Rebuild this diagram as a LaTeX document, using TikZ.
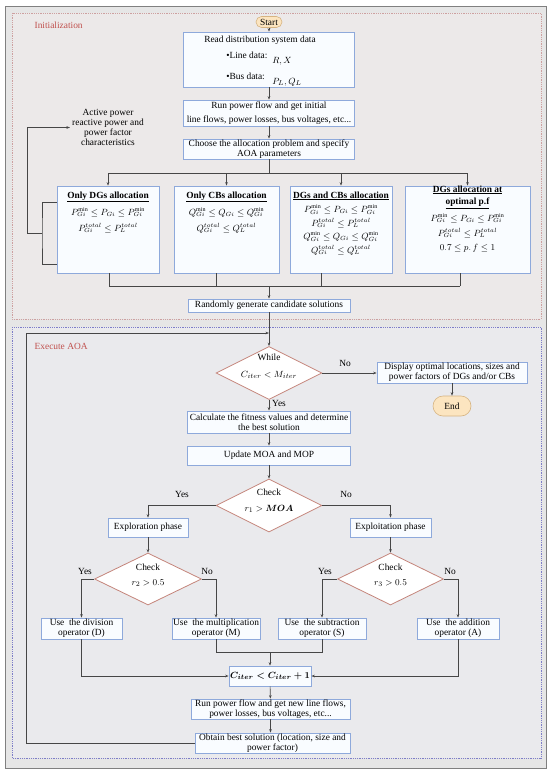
\documentclass[tikz,border=0pt]{standalone}
\usepackage{amsmath}
\usepackage{fontspec}
\setmainfont{Liberation Serif}
\usetikzlibrary{arrows.meta,shapes.geometric,positioning}
\definecolor{boxblue}{RGB}{142,169,219}
\definecolor{boxfill}{RGB}{249,252,255}
\definecolor{diared}{RGB}{196,132,122}
\definecolor{termfill}{RGB}{252,229,192}
\definecolor{termdraw}{RGB}{214,180,130}
\definecolor{linegray}{RGB}{70,70,70}
\definecolor{framered}{RGB}{192,80,77}
\definecolor{initdot}{RGB}{205,160,160}
\definecolor{execdot}{RGB}{125,125,200}
\definecolor{bgcol}{RGB}{230,230,230}
\definecolor{initbg}{RGB}{236,233,233}
\definecolor{execbg}{RGB}{234,234,237}
\begin{document}
\begin{tikzpicture}
  [
  x=1pt, y=-1pt,
  font=\fontsize{9.4}{10}\selectfont, line width=0.6pt,
  procbox/.style={rectangle, draw=boxblue, fill=boxfill, line width=0.8pt, inner sep=0.5pt, align=center},
  decision/.style={diamond, draw=diared, fill=white, line width=0.8pt, inner sep=0pt},
  terminal/.style={rectangle, draw=termdraw, fill=termfill, line width=0.6pt, inner sep=0pt},
  title/.style={font=\fontsize{9.4}{10}\selectfont\bfseries, inner sep=0pt},
  eqn/.style={inner sep=0pt, font=\fontsize{9}{10}\selectfont},
  conn/.style={draw=linegray},
  arr/.style={draw=linegray, -{Stealth[length=3.5pt,width=2.6pt]}},
  framelabel/.style={text=framered, anchor=west}
  ]

\useasboundingbox (0,0) rectangle (550,776);
\fill[bgcol] (5,7) rectangle (546,768);
\draw[gray, line width=1pt] (5,7) rectangle (546,768);
\filldraw[fill=initbg, draw=initdot, densely dotted, line width=0.8pt] (12,13) rectangle (541,319);
\filldraw[fill=execbg, draw=execdot, densely dotted, line width=0.8pt] (12,327) rectangle (541,758);
\node[framelabel] (initlbl) at (31,25) {Initialization};
\node[framelabel] (execlbl) at (31,346) {Execute AOA};

\node[terminal, minimum width=26pt, minimum height=11pt, rounded corners=5.5pt] (start) at (269,22) {Start};

\node[procbox, minimum width=171pt, minimum height=55pt] (read) at (269,59.5) {};
\node (readt) at (260,40) {Read distribution system data};
\node[anchor=west, inner sep=0pt] (linet) at (226,55) {\textbullet Line data:};
\node[anchor=west, inner sep=0pt] (linev) at (272,61) {$R, X$};
\node[anchor=west, inner sep=0pt] (bust) at (226,76) {\textbullet Bus data:};
\node[anchor=west, inner sep=0pt] (busv) at (272,82) {$P_L, Q_L$};

\node[procbox, minimum width=171pt, minimum height=26pt] (flow) at (269,113) {Run power flow and get initial\\[4pt] line flows, power losses, bus voltages, etc...};
\node[procbox, minimum width=171pt, minimum height=20pt] (choose) at (269,149) {Choose the allocation problem and specify\\AOA parameters};

\node[align=center, inner sep=2pt] (charac) at (108,127.5) {Active power\\reactive power and\\power factor\\characteristics};

\node[procbox, minimum width=102pt, minimum height=87pt] (a1) at (108,229.5) {};
\node[procbox, minimum width=105pt, minimum height=87pt] (a2) at (226.5,229.5) {};
\node[procbox, minimum width=102pt, minimum height=87pt] (a3) at (341,229.5) {};
\node[procbox, minimum width=125pt, minimum height=87pt] (a4) at (467.5,229.5) {};

\node[title] (a1t) at (108,197) {\underline{Only DGs allocation}};
\node[eqn] (a1e1) at (108,212) {$P_{Gi}^{\mathrm{min}} \le P_{Gi} \le P_{Gi}^{\mathrm{min}}$};
\node[eqn] (a1e2) at (108,228) {$P_{Gi}^{total} \le P_{L}^{total}$};

\node[title] (a2t) at (226.5,197) {\underline{Only CBs allocation}};
\node[eqn] (a2e1) at (226.5,212) {$Q_{Gi}^{\mathrm{min}} \le Q_{Gi} \le Q_{Gi}^{\mathrm{min}}$};
\node[eqn] (a2e2) at (226.5,228) {$Q_{Gi}^{total} \le Q_{L}^{total}$};

\node[title] (a3t) at (341,196) {\underline{DGs and CBs allocation}};
\node[eqn] (a3e1) at (341,209.5) {$P_{Gi}^{\mathrm{min}} \le P_{Gi} \le P_{Gi}^{\mathrm{min}}$};
\node[eqn] (a3e2) at (341,223) {$P_{Gi}^{total} \le P_{L}^{total}$};
\node[eqn] (a3e3) at (341,236.5) {$Q_{Gi}^{\mathrm{min}} \le Q_{Gi} \le Q_{Gi}^{\mathrm{min}}$};
\node[eqn] (a3e4) at (341,250) {$Q_{Gi}^{total} \le Q_{L}^{total}$};

\node[title] (a4t) at (467.5,190) {\underline{DGs allocation at}};
\node[title] (a4t2) at (467.5,203) {\underline{optimal p.f}};
\node[eqn] (a4e1) at (467.5,218) {$P_{Gi}^{\mathrm{min}} \le P_{Gi} \le P_{Gi}^{\mathrm{min}}$};
\node[eqn] (a4e2) at (467.5,233) {$P_{Gi}^{total} \le P_{L}^{total}$};
\node[eqn] (a4e3) at (467.5,248) {$0.7 \le p.\,f \le 1$};

\node[procbox, minimum width=162pt, minimum height=13pt] (rand) at (269,305.5) {Randomly generate candidate solutions};

\node[decision, minimum width=106pt, minimum height=53pt] (while) at (269,373) {};
\node (whilet) at (269,357) {While};
\node (whilec) at (269,375) {$C_{iter} < M_{iter}$};
\node (wno) at (345,363) {No};
\node (wyes) at (279,403) {Yes};

\node[procbox, minimum width=150pt, minimum height=21pt] (disp) at (452,372.5) {Display optimal locations, sizes and\\power factors of DGs and/or CBs};
\node[terminal, minimum width=38pt, minimum height=20pt, rounded corners=10pt] (end) at (452,406) {End};

\node[procbox, minimum width=163pt, minimum height=22pt] (calc) at (269,422) {Calculate the fitness values and determine\\the best solution};
\node[procbox, minimum width=163pt, minimum height=19pt] (upd) at (269,455.5) {Update MOA and MOP};

\node[decision, minimum width=106pt, minimum height=53pt] (chk1) at (269,505.5) {};
\node (chk1t) at (269,492) {Check};
\node (chk1c) at (269,509) {$r_1 > \boldsymbol{MOA}$};
\node (c1yes) at (182,494) {Yes};
\node (c1no) at (346,494) {No};

\node[procbox, minimum width=80pt, minimum height=19pt] (explor) at (148,527.5) {Exploration phase};
\node[procbox, minimum width=81pt, minimum height=19pt] (exploit) at (390.5,527.5) {Exploitation phase};

\node[decision, minimum width=107pt, minimum height=52pt] (chk2) at (148,579) {};
\node (chk2t) at (148,567) {Check};
\node (chk2c) at (148,583) {$r_2 > 0.5$};
\node (c2yes) at (85,571) {Yes};
\node (c2no) at (207,571) {No};

\node[decision, minimum width=106pt, minimum height=52pt] (chk3) at (390.5,579) {};
\node (chk3t) at (390.5,567) {Check};
\node (chk3c) at (390.5,583) {$r_3 > 0.5$};
\node (c3yes) at (325,571) {Yes};
\node (c3no) at (450,571) {No};

\node[procbox, minimum width=81pt, minimum height=21pt] (opD) at (81.5,628.5) {Use~ the division\\operator (D)};
\node[procbox, minimum width=88pt, minimum height=21pt] (opM) at (216,628.5) {Use~ the multiplication\\operator (M)};
\node[procbox, minimum width=88pt, minimum height=21pt] (opS) at (322,628.5) {Use~ the subtraction\\operator (S)};
\node[procbox, minimum width=82pt, minimum height=21pt] (opA) at (458,628.5) {Use~ the addition\\operator (A)};

\node[procbox, minimum width=82pt, minimum height=20pt] (citer) at (270,676) {$\boldsymbol{C_{iter} < C_{iter} + 1}$};
\node[procbox, minimum width=159pt, minimum height=20pt] (flow2) at (270.5,709) {Run power flow and get new line flows,\\power losses, bus voltages, etc...};
\node[procbox, minimum width=155pt, minimum height=20pt] (best) at (272.5,743) {Obtain best solution (location, size and\\power factor)};

\draw[arr] (start) -- (read);
\draw[arr] (read) -- (flow);
\draw[arr] (flow) -- (choose);
\coordinate (split) at (269,173);
\draw[conn] (choose) -- (split);
\draw[conn] (a1.north |- split) -- (a4.north |- split);
\foreach \i in {1,2,3,4} {
  \draw[arr] (a\i.north |- split) -- (a\i.north);
}
\coordinate (merge) at (269,286);
\foreach \i/\mx in {1/109,2/216,3/321,4/460} {
  \draw[conn] (a\i.south -| \mx,0) -- (\mx,286);
}
\draw[conn] (109,286) -- (460,286);
\draw[arr] (merge) -- (rand);

\draw[conn] ([yshift=27.5pt]a1.west) -| (42,233) |- ([yshift=-34.5pt]a1.west);
\draw[arr] (42,233) -- (27,233) |- (charac.west);

\draw[arr] (rand) -- (while);
\draw[arr] (best.west) -| (26,333) -- (rand.south |- 0,333);
\draw[arr] (while.east) -- (while.east -| disp.west);
\draw[arr] (disp) -- (end);
\draw[arr] (while) -- (calc);
\draw[arr] (calc) -- (upd);
\draw[arr] (upd) -- (chk1);
\draw[arr] (chk1.west) -| (explor.north);
\draw[arr] (chk1.east) -| (exploit.north);
\draw[arr] (explor) -- (chk2);
\draw[arr] (exploit) -- (chk3);
\draw[arr] (chk2.west) -| (opD.north);
\draw[arr] (chk2.east) -| (opM.north);
\draw[arr] (chk3.west) -| (opS.north);
\draw[arr] (chk3.east) -| (opA.north);
\coordinate (join) at (270,652);
\draw[conn] (opM.south) |- (join);
\draw[conn] (opS.south) |- (join);
\draw[arr] (join) -- (citer);
\draw[arr] (opD.south) |- (citer.west);
\draw[arr] (opA.south) |- (citer.east);
\draw[arr] (citer) -- (flow2);
\draw[arr] (flow2.south) -- (flow2.south |- best.north);
\end{tikzpicture}
\end{document}
